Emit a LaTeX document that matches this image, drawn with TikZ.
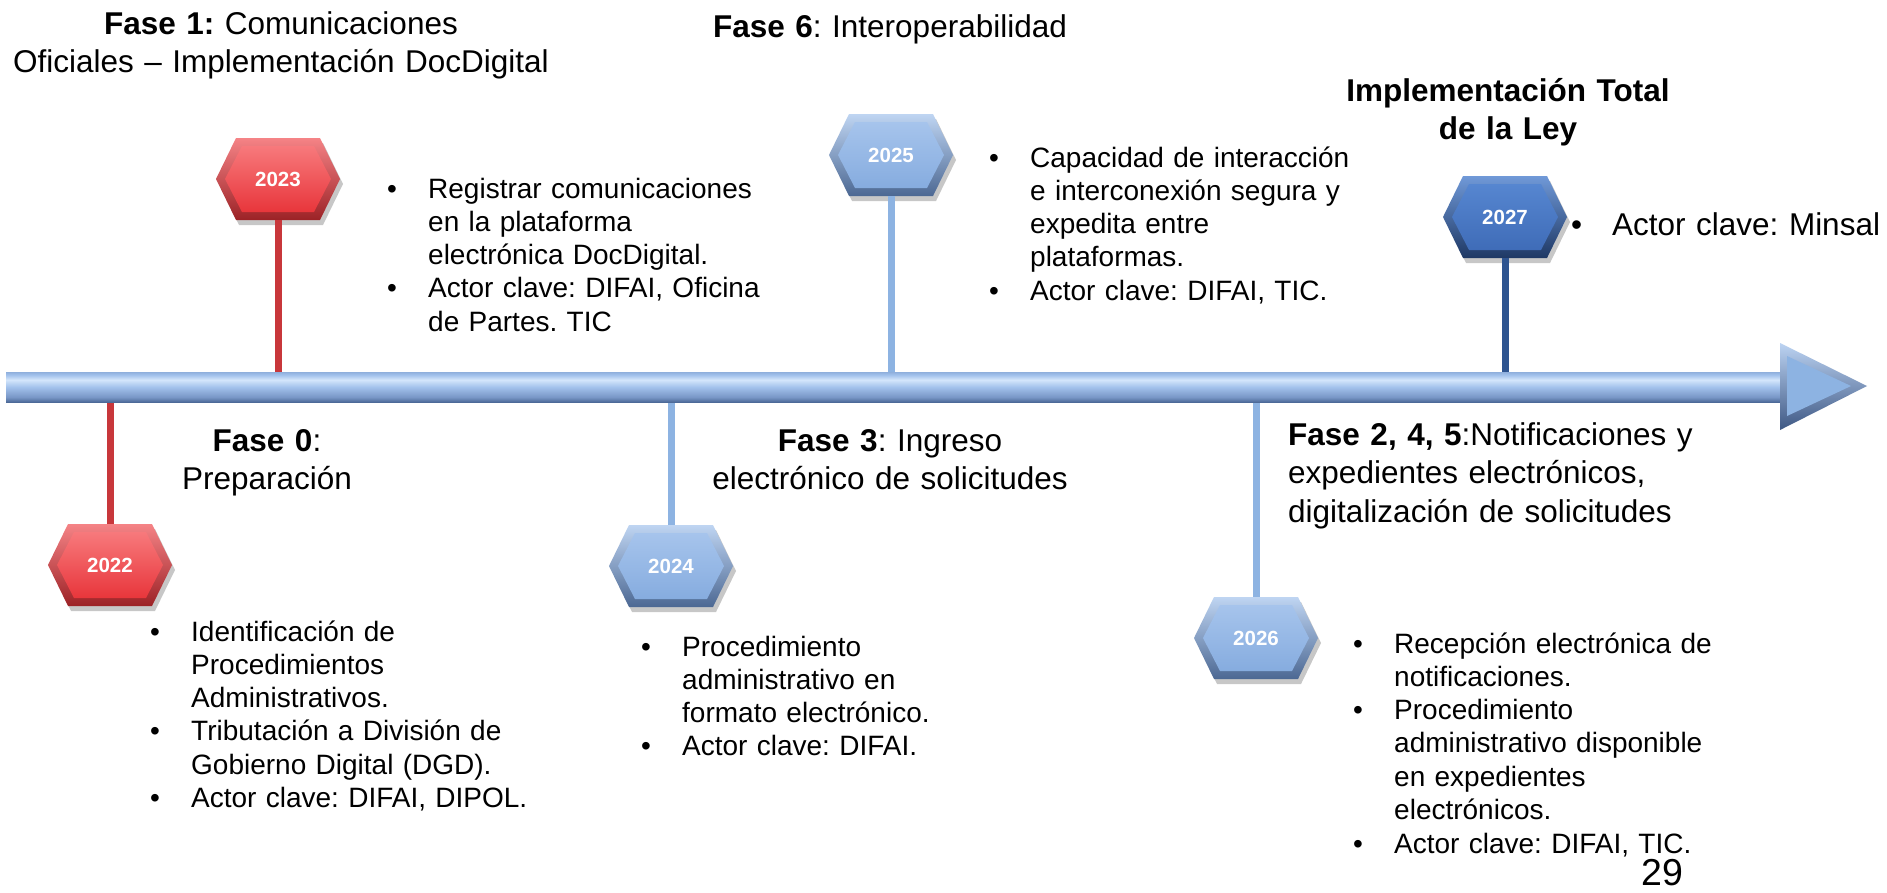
\documentclass[tikz,border=0pt]{standalone}
\usepackage{fontspec}
\setmainfont{Liberation Sans}
\usetikzlibrary{calc}
\frenchspacing
\definecolor{prEdgeT}{HTML}{F58386}
\definecolor{prEdgeB}{HTML}{9C2226}
\definecolor{prFaceT}{HTML}{F7797C}
\definecolor{prFaceB}{HTML}{E8363B}
\definecolor{plEdgeT}{HTML}{BFD5F2}
\definecolor{plEdgeB}{HTML}{4C6893}
\definecolor{plFaceT}{HTML}{A6C4EC}
\definecolor{plFaceB}{HTML}{86ACDF}
\definecolor{pdEdgeT}{HTML}{7099D8}
\definecolor{pdEdgeB}{HTML}{1E3864}
\definecolor{pdFaceT}{HTML}{5686D0}
\definecolor{pdFaceB}{HTML}{3F6CB8}
\definecolor{stemRed}{HTML}{C8373B}
\definecolor{stemLight}{HTML}{8DB3E2}
\definecolor{stemDark}{HTML}{2E5490}
\definecolor{axEdgeT}{HTML}{8FAFDC}
\definecolor{axHi}{HTML}{D4E6FB}
\definecolor{axMid}{HTML}{A3C2EC}
\definecolor{axLow}{HTML}{7896C6}
\definecolor{axEdgeB}{HTML}{4D6A98}
\definecolor{headFace}{HTML}{8DB3E2}
\definecolor{headHi}{HTML}{BCD3F2}
\definecolor{headDk}{HTML}{3E5884}
\pgfdeclareverticalshading{axshade}{100bp}{color(0bp)=(axEdgeB); color(25bp)=(axEdgeB); color(33bp)=(axLow); color(50bp)=(axMid); color(62bp)=(axHi); color(70bp)=(axMid); color(75bp)=(axEdgeT); color(100bp)=(axEdgeT)}
\newcommand\fitem{\leftskip=41pt\relax\noindent\llap{\makebox[41pt][l]{•}}}
\newcommand\bitem{\par\fitem}
\newcommand\yearhex[5]{%
  \begin{scope}[shift={(#2,#3)}]
    \fill[black,opacity=0.22] (-59,5)--(-39,-36)--(45,-36)--(65,5)--(45,46)--(-39,46)--cycle;
    \shade[top color=#4EdgeT, bottom color=#4EdgeB] (-62,0)--(-42,-41)--(42,-41)--(62,0)--(42,41)--(-42,41)--cycle;
    \shade[top color=#4FaceT, bottom color=#4FaceB] (-53,0)--(-36,-33)--(36,-33)--(53,0)--(36,33)--(-36,33)--cycle;
  \end{scope}
  \node[yearlbl] (#1) at (#2,#3) {#5};
}
\begin{document}
\begin{tikzpicture}[x=1pt,y=-1pt,
  yearlbl/.style={minimum width=124pt, minimum height=82pt, inner sep=0pt, text=white,
    font=\fontsize{20.5}{24}\selectfont\bfseries},
  stemline/.style={line width=7pt},
  bul/.style={anchor=base west, inner sep=0pt, text width=#1,
    font=\fontsize{28}{33.3}\selectfont},
  head/.style={anchor=base, inner sep=0pt, text width=#1, align=center,
    font=\fontsize{31.5}{38.5}\selectfont},
  headl/.style={anchor=base west, inner sep=0pt, text width=#1, align=left,
    font=\fontsize{31.5}{38.5}\selectfont}]
\useasboundingbox (0,0) rectangle (1887,892);
\fill[white] (0,0) rectangle (1887,892);

\coordinate (axtop) at (0,373);
\coordinate (axbot) at (0,401);

% year hexagons
\yearhex{y2023}{278}{179}{pr}{2023}
\yearhex{y2022}{110}{565}{pr}{2022}
\yearhex{y2025}{891}{155}{pl}{2025}
\yearhex{y2024}{671}{566}{pl}{2024}
\yearhex{y2026}{1256}{638}{pl}{2026}
\yearhex{y2027}{1505}{217}{pd}{2027}

% stems
\draw[stemline, stemRed] (y2023.south) -- (y2023.south |- axtop);
\draw[stemline, stemRed] (y2022.north |- axbot) -- (y2022.north);
\draw[stemline, stemLight] (y2025.south) -- (y2025.south |- axtop);
\draw[stemline, stemLight] (y2024.north |- axbot) -- (y2024.north);
\draw[stemline, stemLight] (y2026.north |- axbot) -- (y2026.north);
\draw[stemline, stemDark] (y2027.south) -- (y2027.south |- axtop);

% timeline arrow
\shade[shading=axshade] (6,372) rectangle (1785,402);
\shade[top color=headHi, bottom color=headDk] (1780,343) -- (1867,386) -- (1780,430) -- cycle;
\fill[headFace] (1787,356) -- (1851,386) -- (1787,416) -- cycle;

% headings
\node[head=700pt] (h1) at (281,34) {\textbf{Fase 1:} Comunicaciones\\Oficiales – Implementación DocDigital};
\node[head=600pt] (h6) at (890,37) {\textbf{Fase 6}: Interoperabilidad};
\node[head=400pt] (hT) at (1508,101) {\textbf{Implementación Total}\\\textbf{de la Ley}};
\node[head=400pt] (h0) at (267,451) {\textbf{Fase 0}:\\Preparación};
\node[head=500pt] (h3) at (890,451) {\textbf{Fase 3}: Ingreso\\electrónico de solicitudes};
\node[headl=480pt] (h245) at (1288,445) {\textbf{Fase 2, 4, 5}:Notificaciones y\\expedientes electrónicos,\\digitalización de solicitudes};

% bullet texts
\node[bul=420pt] (t2023) at (387,198) {\fitem Registrar comunicaciones\\en la plataforma\\electrónica DocDigital.\bitem Actor clave: DIFAI, Oficina\\de Partes. TIC\par};
\node[bul=420pt] (t2025) at (989,167) {\fitem Capacidad de interacción\\e interconexión segura y\\expedita entre\\plataformas.\bitem Actor clave: DIFAI, TIC.\par};
\node[bul=310pt, font=\fontsize{31.5}{38.5}\selectfont] (t2027) at (1571,235) {\fitem Actor clave: Minsal\par};
\node[bul=420pt] (t2022) at (150,641) {\fitem Identificación de\\Procedimientos\\Administrativos.\bitem Tributación a División de\\Gobierno Digital (DGD).\bitem Actor clave: DIFAI, DIPOL.\par};
\node[bul=420pt] (t2024) at (641,656) {\fitem Procedimiento\\administrativo en\\formato electrónico.\bitem Actor clave: DIFAI.\par};
\node[bul=420pt] (t2026) at (1353,653) {\fitem Recepción electrónica de\\notificaciones.\bitem Procedimiento\\administrativo disponible\\en expedientes\\electrónicos.\par\vspace{1pt}\bitem Actor clave: DIFAI, TIC.\par};

\node[anchor=base, inner sep=0pt, font=\fontsize{37.5}{40}\selectfont] (pg) at (1662,885) {29};
\end{tikzpicture}
\end{document}
